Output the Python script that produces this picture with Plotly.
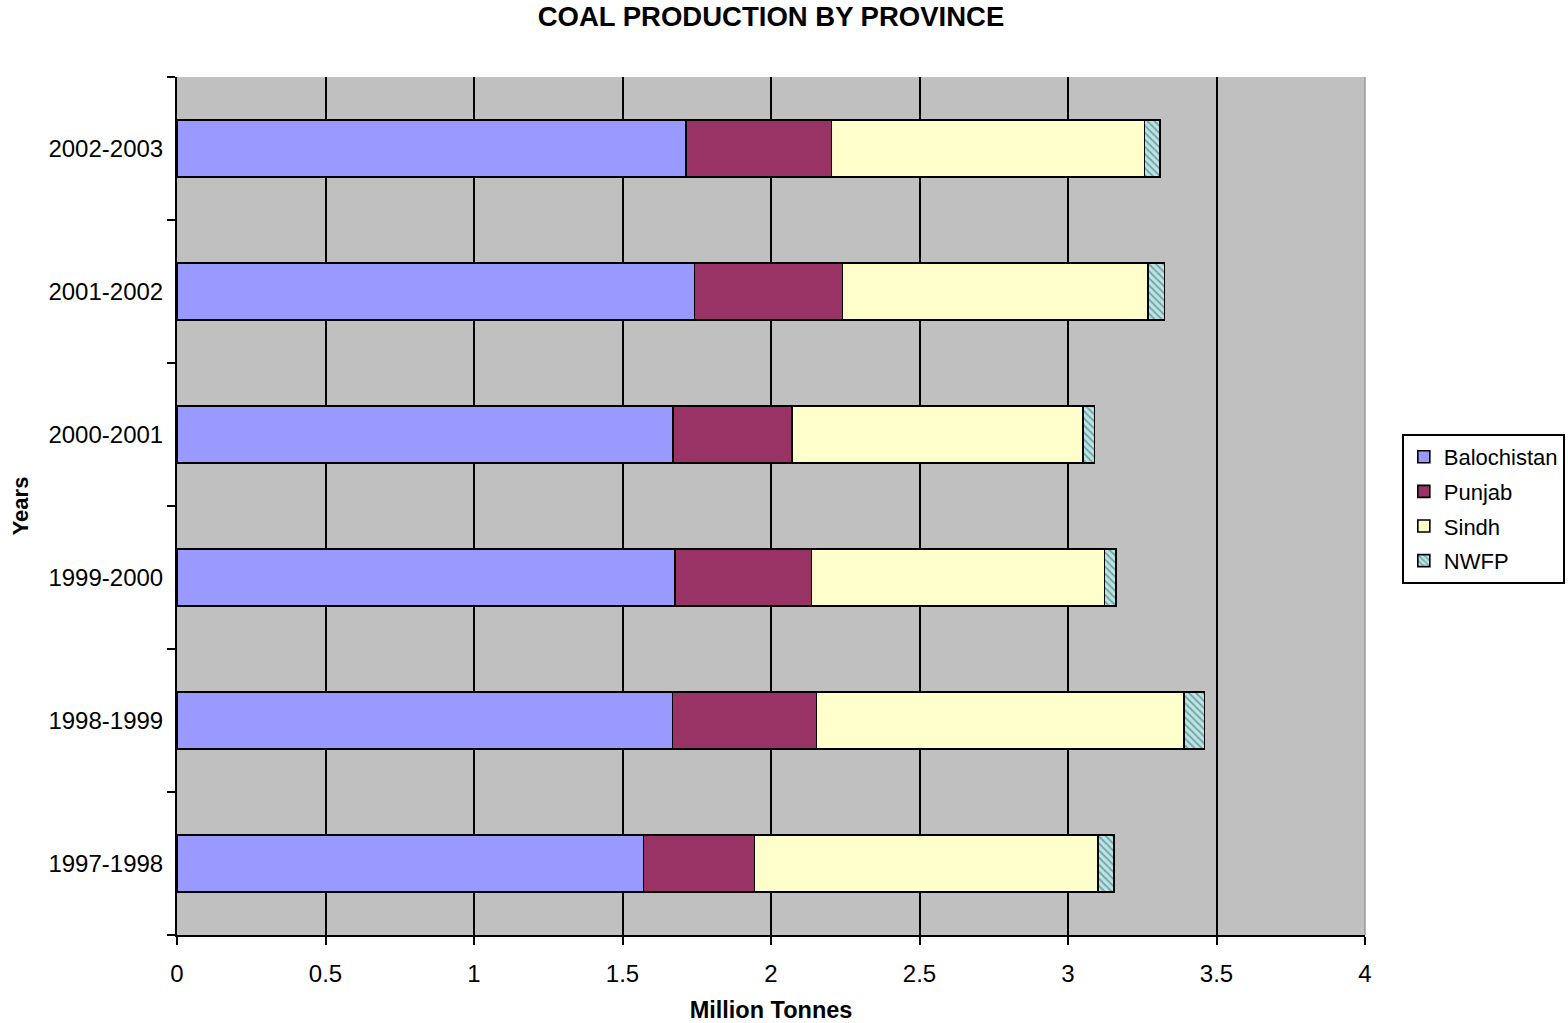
import plotly.graph_objects as go

# Coal production by province, million tonnes
years = ["1997-1998", "1998-1999", "1999-2000", "2000-2001", "2001-2002", "2002-2003"]
balochistan = [1.571, 1.669, 1.676, 1.670, 1.743, 1.713]
punjab = [0.373, 0.484, 0.461, 0.401, 0.498, 0.491]
sindh = [1.158, 1.238, 0.986, 0.979, 1.029, 1.054]
nwfp = [0.052, 0.068, 0.039, 0.039, 0.055, 0.052]

x_ticks = [0, 0.5, 1, 1.5, 2, 2.5, 3, 3.5, 4]
x_tick_text = ["0", "0.5", "1", "1.5", "2", "2.5", "3", "3.5", "4"]

FONT = "Liberation Sans, Arial, sans-serif"
outline = dict(color="black", width=1.6)

fig = go.Figure()
series = [
    ("Balochistan", balochistan, dict(color="#9999FF", line=outline)),
    ("Punjab", punjab, dict(color="#993366", line=outline)),
    ("Sindh", sindh, dict(color="#FFFFCC", line=outline)),
    ("NWFP", nwfp, dict(color="#CCFFFF", line=outline,
                        pattern=dict(shape="\\", fgcolor="#3A5A5A", bgcolor="#B8E6E6",
                                     size=5, solidity=0.35))),
]
for name, vals, marker in series:
    fig.add_trace(go.Bar(
        y=years, x=vals, name=name, orientation="h",
        marker=marker, legendgroup=name,
    ))

fig.update_layout(
    width=1568, height=1023,
    margin=dict(l=177, r=203, t=77, b=88, autoexpand=False),
    barmode="stack", bargap=0.6,
    paper_bgcolor="white", plot_bgcolor="#C0C0C0",
    font=dict(family=FONT, size=24, color="black"),
    title=dict(
        text="<b>COAL PRODUCTION BY PROVINCE</b>",
        font=dict(family=FONT, size=27.5, color="black"),
        x=0.5, xref="paper", xanchor="center",
        y=1 - 16 / 1023, yref="container", yanchor="middle",
    ),
    xaxis=dict(
        range=[0, 4], tickvals=x_ticks, ticktext=x_tick_text,
        showgrid=True, gridcolor="black", gridwidth=2,
        showline=True, linecolor="black", linewidth=2,
        ticks="outside", ticklen=8, tickwidth=2, tickcolor="black",
        zeroline=False,
        title=dict(text="<b>Million Tonnes</b>", font=dict(size=23.5), standoff=22),
        tickfont=dict(size=24), ticklabelstandoff=8,
    ),
    yaxis=dict(
        type="category", categoryorder="array", categoryarray=years,
        tickson="boundaries", ticks="outside", ticklen=8, tickwidth=2, tickcolor="black",
        showline=True, linecolor="black", linewidth=2, showgrid=False,
        title=dict(text="<b>Years</b>", font=dict(size=22), standoff=14),
        tickfont=dict(size=24), ticklabelstandoff=7,
    ),
    legend=dict(
        x=1.031, xanchor="left", y=0.4965, yanchor="middle",
        bordercolor="black", borderwidth=2, bgcolor="white",
        font=dict(size=22), traceorder="grouped", tracegroupgap=3,
        itemwidth=30,
    ),
    shapes=[dict(type="line", xref="paper", yref="paper", x0=1, x1=1, y0=0, y1=1,
                 line=dict(color="#9A9A9A", width=1.5))],
)

fig.write_html("out.html")
